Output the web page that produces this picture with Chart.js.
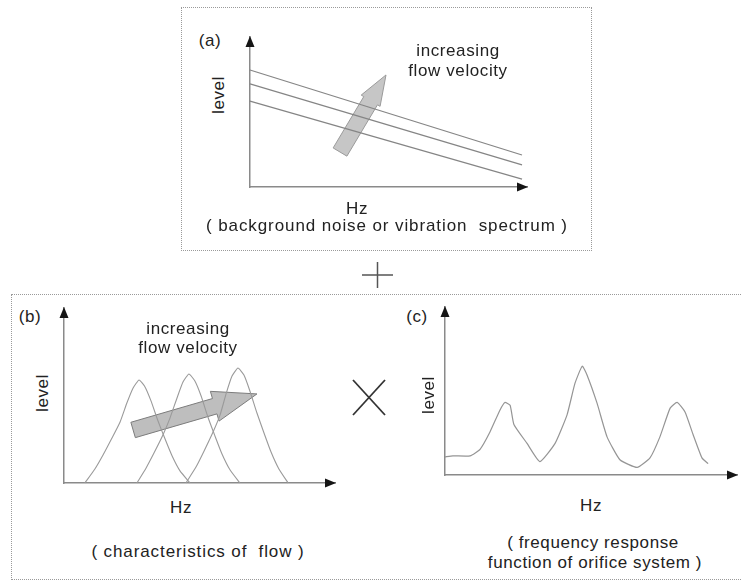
<!DOCTYPE html>
<html>
<head>
<meta charset="utf-8">
<title>Flow noise model</title>
<script src="https://cdn.jsdelivr.net/npm/chart.js@4.4.1/dist/chart.umd.min.js"></script>
<style>
  html, body { margin: 0; padding: 0; background: #fff; }
  #stage { position: relative; width: 741px; height: 582px; overflow: hidden;
           font-family: "Liberation Sans", Arial, Helvetica, sans-serif; color: #222; }
  .box { position: absolute; border: 1px dotted #9a9a9a; box-sizing: border-box; }
  canvas { position: absolute; }
  .t { position: absolute; font-size: 17px; letter-spacing: 0.6px; white-space: nowrap;
       line-height: 1; transform: translate(-50%, -50%); z-index: 3; }
  .wide { letter-spacing: 0.9px; }
  .rot { transform: translate(-50%, -50%) rotate(-90deg); }
  svg.op { position: absolute; left: 0; top: 0; z-index: 3; }
</style>
</head>
<body>
<div id="stage">
  <div class="box" style="left:181px;top:7px;width:411px;height:244px;"></div>
  <div class="box" style="left:11px;top:294px;width:740px;height:286px;"></div>

  <canvas id="chartA" width="301" height="174" style="left:238px;top:25px;"></canvas>
  <canvas id="chartB" width="295" height="199" style="left:52px;top:296px;"></canvas>
  <canvas id="chartC" width="308" height="192" style="left:433px;top:295px;"></canvas>

  <!-- panel (a) -->
  <div class="t" style="left:210px;top:40px;">(a)</div>
  <div class="t" style="left:458px;top:50px;">increasing</div>
  <div class="t" style="left:458px;top:70px;">flow velocity</div>
  <div class="t rot" style="left:218px;top:95px;">level</div>
  <div class="t" style="left:357px;top:208px;">Hz</div>
  <div class="t wide" style="left:387px;top:225px;">( background noise or vibration&nbsp; spectrum )</div>

  <!-- panel (b) -->
  <div class="t" style="left:30px;top:316px;">(b)</div>
  <div class="t" style="left:188px;top:328px;">increasing</div>
  <div class="t" style="left:188px;top:347px;">flow velocity</div>
  <div class="t rot" style="left:42px;top:393px;">level</div>
  <div class="t" style="left:181px;top:507px;">Hz</div>
  <div class="t wide" style="left:198px;top:551px;">( characteristics of&nbsp; flow )</div>

  <!-- panel (c) -->
  <div class="t" style="left:417px;top:316px;">(c)</div>
  <div class="t rot" style="left:428px;top:395px;">level</div>
  <div class="t" style="left:591px;top:505px;">Hz</div>
  <div class="t" style="left:593px;top:542px;">( frequency response</div>
  <div class="t" style="left:595px;top:562px;">function of orifice system )</div>

  <!-- operators joining the panels -->
  <svg class="op" width="741" height="582">
    <line x1="362" y1="275" x2="393" y2="275" stroke="#555" stroke-width="1.5"/>
    <line x1="377.5" y1="262" x2="377.5" y2="288" stroke="#555" stroke-width="1.5"/>
    <line x1="353" y1="380" x2="385" y2="415" stroke="#333" stroke-width="1.8"/>
    <line x1="385" y1="380" x2="353" y2="415" stroke="#333" stroke-width="1.8"/>
  </svg>
</div>

<script>
// (a) background noise / vibration spectra: level falls steadily with Hz
const bgHz        = [0, 98.2];
const bgLevelHigh = [78.0, 21.3];
const bgLevelMid  = [68.7, 14.7];
const bgLevelLow  = [57.3, 5.3];

// (b) flow characteristic peaks, moving up in Hz as velocity rises
const peak1Hz    = [7.7, 11.4, 14.4, 17.7, 20.7, 23.2, 25.5, 27.7, 29.9, 32.1, 34.7, 37.3, 39.9, 42.8, 46.5];
const peak1Level = [0, 8.0, 16.0, 25.7, 34.9, 45.7, 54.3, 58.9, 54.9, 46.9, 35.4, 25.1, 15.4, 6.9, 0];
const peak2Hz    = [26.9, 30.3, 33.2, 36.5, 39.1, 41.7, 43.9, 46.1, 48.3, 50.6, 53.1, 55.7, 58.3, 61.3, 64.9];
const peak2Level = [0, 8.6, 17.1, 27.4, 37.1, 48.6, 57.7, 62.3, 58.3, 49.7, 37.7, 26.9, 16.6, 7.4, 0];
const peak3Hz    = [45.0, 48.7, 51.7, 55.0, 57.6, 59.8, 62.0, 64.2, 66.4, 68.6, 71.2, 73.8, 76.4, 79.3, 82.7];
const peak3Level = [0, 9.1, 18.3, 29.1, 38.9, 50.9, 61.1, 65.7, 61.7, 52.6, 40.0, 28.6, 17.7, 8.0, 0];

// (c) frequency response function of the orifice system
const frfHz    = [0, 2.7, 8.6, 12.0, 15.4, 18.8, 20.5, 22.3, 23.6, 28.1, 32.5, 37.7, 41.8, 44.5, 47.0,
                  48.6, 52.1, 55.5, 59.9, 65.8, 70.2, 73.6, 77.1, 79.5, 82.2, 84.9, 88.0, 90.1];
const frfLevel = [10.8, 11.4, 11.4, 15.3, 25.6, 38.6, 43.2, 41.5, 30.1, 18.8, 8.0, 18.8, 35.8, 54.5, 64.8,
                  59.7, 42.6, 22.7, 9.1, 4.5, 10.2, 22.7, 39.8, 43.2, 37.5, 24.4, 10.2, 6.8];

const toPoints = (xs, ys) => xs.map((x, i) => ({ x, y: ys[i] }));

// Axis arrowheads plus the broad grey "increasing flow velocity" arrow
const diagramPlugin = {
  id: 'diagram',
  beforeDatasetsDraw(chart, args, opts) {
    const a = opts.flowArrow;
    if (!a) return;
    const ctx = chart.ctx, xs = chart.scales.x, ys = chart.scales.y;
    const x0 = xs.getPixelForValue(a.from[0]), y0 = ys.getPixelForValue(a.from[1]);
    const x1 = xs.getPixelForValue(a.to[0]),   y1 = ys.getPixelForValue(a.to[1]);
    const len = Math.hypot(x1 - x0, y1 - y0);
    const ux = (x1 - x0) / len, uy = (y1 - y0) / len, px = -uy, py = ux;
    const sw = a.shaft / 2, hw = a.head / 2;
    const bx = x1 - ux * a.headLen, by = y1 - uy * a.headLen;
    const pts = [
      [x0 + px * sw, y0 + py * sw], [bx + px * sw, by + py * sw], [bx + px * hw, by + py * hw],
      [x1, y1],
      [bx - px * hw, by - py * hw], [bx - px * sw, by - py * sw], [x0 - px * sw, y0 - py * sw]
    ];
    ctx.save();
    ctx.beginPath();
    pts.forEach((p, i) => i ? ctx.lineTo(p[0], p[1]) : ctx.moveTo(p[0], p[1]));
    ctx.closePath();
    ctx.fillStyle = a.fill;
    ctx.fill();
    ctx.lineWidth = 1;
    ctx.strokeStyle = a.stroke;
    ctx.stroke();
    ctx.restore();
  },
  afterDraw(chart) {
    const ctx = chart.ctx;
    const { left, right, top, bottom } = chart.chartArea;
    ctx.save();
    ctx.fillStyle = '#151515';
    ctx.beginPath();
    ctx.moveTo(right + 1, bottom);
    ctx.lineTo(right - 10, bottom - 4.5);
    ctx.lineTo(right - 10, bottom + 4.5);
    ctx.closePath();
    ctx.fill();
    ctx.beginPath();
    ctx.moveTo(left, top - 1);
    ctx.lineTo(left - 4.5, top + 10);
    ctx.lineTo(left + 4.5, top + 10);
    ctx.closePath();
    ctx.fill();
    ctx.restore();
  }
};

function axis() {
  return {
    type: 'linear', min: 0, max: 100, display: true,
    grid: { display: false, drawTicks: false },
    ticks: { display: false },
    border: { display: true, color: '#8a8a8a', width: 1.5 },
    title: { display: false }
  };
}

function traceStyle(color, width) {
  return { borderColor: color, borderWidth: width, pointRadius: 0, fill: false, clip: 6 };
}

function makeChart(id, padding, datasets, flowArrow, tension) {
  return new Chart(document.getElementById(id), {
    type: 'scatter',
    data: { datasets },
    options: {
      responsive: false, animation: false, devicePixelRatio: 1,
      layout: { padding },
      showLine: true,
      elements: { line: { tension } },
      scales: { x: axis(), y: axis() },
      plugins: { legend: { display: false }, tooltip: { enabled: false }, diagram: { flowArrow } }
    },
    plugins: [diagramPlugin]
  });
}

makeChart('chartA', { left: 12, right: 12, top: 12, bottom: 12 }, [
  { data: toPoints(bgHz, bgLevelHigh), ...traceStyle('#858585', 1.2) },
  { data: toPoints(bgHz, bgLevelMid),  ...traceStyle('#858585', 1.2) },
  { data: toPoints(bgHz, bgLevelLow),  ...traceStyle('#858585', 1.2) }
], { from: [32.5, 23.3], to: [49.1, 74.7], shaft: 16, head: 22, headLen: 30, fill: '#c6c6c6', stroke: '#9a9a9a' }, 0);

makeChart('chartB', { left: 12, right: 12, top: 12, bottom: 12 }, [
  { data: toPoints(peak1Hz, peak1Level), ...traceStyle('#9a9a9a', 1.1) },
  { data: toPoints(peak2Hz, peak2Level), ...traceStyle('#9a9a9a', 1.1) },
  { data: toPoints(peak3Hz, peak3Level), ...traceStyle('#9a9a9a', 1.1) }
], { from: [25.5, 30.3], to: [71.2, 50.9], shaft: 16, head: 31, headLen: 44, fill: '#bebebe', stroke: '#7c7c7c' }, 0.15);

makeChart('chartC', { left: 12, right: 4, top: 12, bottom: 12 }, [
  { data: toPoints(frfHz, frfLevel), ...traceStyle('#959595', 1.2) }
], null, 0.15);
</script>
</body>
</html>
